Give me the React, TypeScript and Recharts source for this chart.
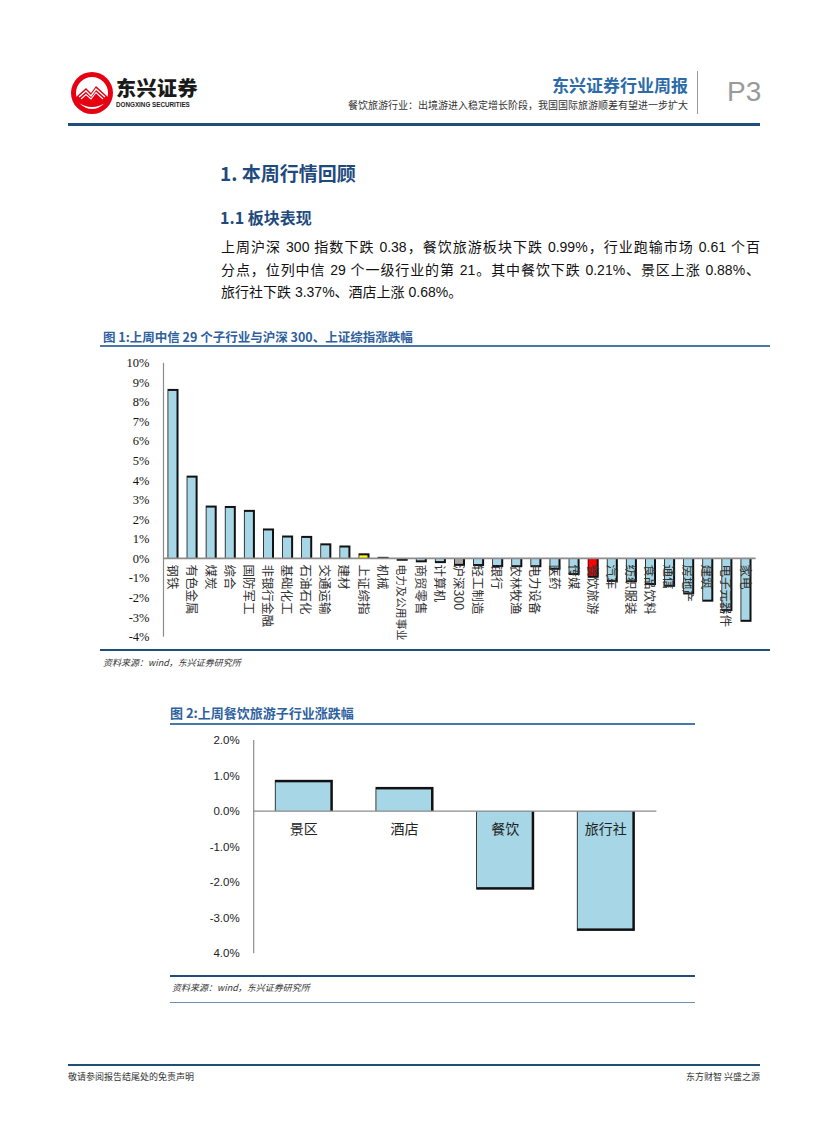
import React from "react";
import { BarChart, Bar, XAxis, YAxis, ReferenceLine } from "recharts";

// 图1：中信一级行业 + 两个指数，上周涨跌幅(%)
const industries = [
  "钢铁", "有色金属", "煤炭", "综合", "国防军工", "非银行金融", "基础化工", "石油石化",
  "交通运输", "建材", "上证综指", "机械", "电力及公用事业", "商贸零售", "计算机", "沪深300",
  "轻工制造", "银行", "农林牧渔", "电力设备", "医药", "传媒", "餐饮旅游", "汽车",
  "纺织服装", "食品饮料", "通信", "房地产", "建筑", "电子元器件", "家电",
];
const weeklyChange = [
  8.66, 4.23, 2.7, 2.68, 2.48, 1.53, 1.17, 1.15,
  0.77, 0.66, 0.26, 0.08, -0.12, -0.2, -0.24, -0.38,
  -0.39, -0.44, -0.45, -0.45, -0.58, -0.85, -0.99, -1.2,
  -1.22, -1.36, -1.45, -1.84, -2.21, -2.69, -3.24,
];
const pctTicks1 = [-4, -3, -2, -1, 0, 1, 2, 3, 4, 5, 6, 7, 8, 9, 10];

// 图2：餐饮旅游子行业
const subSectors = ["景区", "酒店", "餐饮", "旅行社"];
const subChange = [0.88, 0.68, -2.21, -3.37];
const pctTicks2 = [-4, -3, -2, -1, 0, 1, 2];
const pctTickLabels2 = ["4.0%", "-3.0%", "-2.0%", "-1.0%", "0.0%", "1.0%", "2.0%"];

const chart1Data = industries.map((name, i) => ({ name, value: weeklyChange[i] }));
const chart2Data = subSectors.map((name, i) => ({ name, value: subChange[i] }));

const BAR_BLUE = "#A7D6E6";
const highlight: Record<string, string> = {
  上证综指: "#FFFF00",
  沪深300: "#A6A6A6",
  餐饮旅游: "#FF0000",
};

const CJK = "'Noto Sans CJK SC', 'Liberation Sans', sans-serif";
const TITLE_BLUE = "#2E5F9E";
const NAVY = "#1F4E79";

// bar with a dark edge on the right and the outer end, like the excel export
function ShadedBar(props: any) {
  const { x, y, width, height, payload, edge, vertLabel, labelSize } = props;
  const top = Math.min(y, y + height);
  const h = Math.abs(height);
  const v = payload.value;
  const base = v >= 0 ? top + h : top;
  const fill = highlight[payload.name] || BAR_BLUE;
  const inner = {
    x: x + 0.8,
    y: v >= 0 ? top + edge : top,
    w: Math.max(width - 0.8 - edge, 0),
    h: Math.max(h - edge, 0),
  };
  const cx = x + width / 2;
  // long names get squeezed so they stay above the source line
  const fs = vertLabel ? Math.min(labelSize, 76 / payload.name.length) : labelSize;
  return (
    <g>
      <rect x={x} y={top} width={width} height={h} fill="#111" />
      <rect x={inner.x} y={inner.y} width={inner.w} height={inner.h} fill={fill} />
      {vertLabel ? (
        <text
          x={cx}
          y={base + 6}
          transform={`rotate(90 ${cx} ${base + 6})`}
          dominantBaseline="central"
          textAnchor="start"
          fontSize={fs}
          fontFamily={CJK}
          fill="#333"
        >
          {payload.name}
        </text>
      ) : (
        <text
          x={cx}
          y={base + 17}
          dominantBaseline="central"
          textAnchor="middle"
          fontSize={fs}
          fontFamily={CJK}
          fill="#222"
        >
          {payload.name}
        </text>
      )}
    </g>
  );
}

const abs = (l: number, t: number, extra: React.CSSProperties = {}): React.CSSProperties => ({
  position: "absolute",
  left: l,
  top: t,
  whiteSpace: "nowrap",
  ...extra,
});

const hline = (l: number, t: number, w: number, thick: number, color: string) => (
  <div style={abs(l, t, { width: w, height: thick, background: color })} />
);

export default function App() {
  const para: React.CSSProperties = {
    fontFamily: "'Liberation Sans', 'Noto Sans CJK SC', sans-serif",
    fontSize: 14,
    color: "#111",
    width: 539,
    textAlign: "justify",
    textAlignLast: "justify",
    whiteSpace: "normal",
    lineHeight: "16px",
  };
  return (
    <div
      style={{
        position: "absolute",
        left: 0,
        top: 0,
        width: 827,
        height: 1122,
        background: "#fff",
        overflow: "hidden",
        fontFamily: CJK,
      }}
    >
      {/* header */}
      <svg style={abs(70, 71)} width={44} height={44} viewBox="0 0 44 44">
        <circle cx={22} cy={22} r={21} fill="#E50012" />
        <circle cx={22} cy={22} r={16} fill="#fff" />
        <path d="M6 26 L16 17 L21 22 L26 15 L38 26 L38 30 Q22 42 6 30 Z" fill="#E50012" />
        <path d="M9 26 L16 20 L21 25 L26 18 L35 26" stroke="#fff" strokeWidth={1.3} fill="none" />
        <path d="M11 28 L16 23.5 L21 28 L26 21.5 L33 28" stroke="#fff" strokeWidth={1.1} fill="none" />
      </svg>
      <div style={abs(116, 77, { fontSize: 20, lineHeight: "22px", fontWeight: 900, color: "#1a1a1a", letterSpacing: 0.5 })}>
        东兴证券
      </div>
      <div style={abs(116, 101, { fontSize: 6.3, lineHeight: "8px", fontWeight: 700, color: "#222", fontFamily: "'Liberation Sans', sans-serif" })}>
        DONGXING SECURITIES
      </div>
      <div style={abs(0, 72, { width: 688, textAlign: "right", fontSize: 17, fontWeight: 700, color: "#2C6BA8" })}>
        东兴证券行业周报
      </div>
      <div style={abs(0, 97, { width: 688, textAlign: "right", fontSize: 10, color: "#333" })}>
        餐饮旅游行业：出境游进入稳定增长阶段，我国国际旅游顺差有望进一步扩大
      </div>
      <div style={abs(697, 71, { width: 1, height: 43, background: "#999" })} />
      <div style={abs(727, 76, { fontSize: 28, color: "#9A9A9A", fontFamily: "'Liberation Sans', sans-serif", fontWeight: 300 })}>
        P3
      </div>
      {hline(68, 123, 692, 3, NAVY)}

      {/* section headings */}
      <div style={abs(220, 159, { fontSize: 19, fontWeight: 700, color: "#1F4A7D" })}>1. 本周行情回顾</div>
      <div style={abs(220, 205, { fontSize: 16, fontWeight: 700, color: "#1F4A7D" })}>1.1 板块表现</div>
      <div style={abs(221, 239, para)}>上周沪深 300 指数下跌 0.38，餐饮旅游板块下跌 0.99%，行业跑输市场 0.61 个百</div>
      <div style={abs(221, 262, para)}>分点，位列中信 29 个一级行业的第 21。其中餐饮下跌 0.21%、景区上涨 0.88%、</div>
      <div style={abs(221, 284, { ...para, textAlignLast: "left", width: "auto" })}>旅行社下跌 3.37%、酒店上涨 0.68%。</div>

      {/* figure 1 */}
      <div style={abs(103, 327, { fontSize: 12.5, fontWeight: 700, color: TITLE_BLUE })}>
        图 1:上周中信 29 个子行业与沪深 300、上证综指涨跌幅
      </div>
      {hline(100, 345, 670, 2, "#4A76A8")}
      <div style={abs(100, 350)}>
        <BarChart
          width={670}
          height={300}
          data={chart1Data}
          margin={{ top: 12.7, right: 14.4, bottom: 13.3, left: 0 }}
          barCategoryGap="21%"
        >
          <XAxis dataKey="name" hide />
          <YAxis
            width={63.5}
            domain={[-4, 10]}
            ticks={pctTicks1}
            interval={0}
            tickFormatter={(v: number) => `${v}%`}
            tickLine={false}
            tickSize={0}
            tickMargin={14}
            axisLine={{ stroke: "#8c8c8c", strokeWidth: 1.2 }}
            tick={{ fontSize: 12.5, fill: "#111", fontFamily: "'Liberation Serif', serif" }}
          />
          <Bar
            dataKey="value"
            isAnimationActive={false}
            shape={(p: any) => <ShadedBar {...p} edge={2} vertLabel labelSize={12.5} />}
          />
          <ReferenceLine y={0} stroke="#8c8c8c" strokeWidth={1.6} />
        </BarChart>
      </div>
      {hline(100, 649, 670, 1.5, NAVY)}
      <div style={abs(103, 656, { fontSize: 9, fontStyle: "italic", color: "#333" })}>资料来源：wind，东兴证券研究所</div>

      {/* figure 2 */}
      <div style={abs(170, 703, { fontSize: 13, fontWeight: 700, color: TITLE_BLUE })}>图 2:上周餐饮旅游子行业涨跌幅</div>
      {hline(170, 723, 525, 1.5, "#4A76A8")}
      <div style={abs(160, 730)}>
        <BarChart
          width={520}
          height={240}
          data={chart2Data}
          margin={{ top: 10, right: 23.6, bottom: 16.7, left: 0 }}
          barCategoryGap="21%"
        >
          <XAxis dataKey="name" hide />
          <YAxis
            width={93.7}
            domain={[-4, 2]}
            ticks={pctTicks2}
            interval={0}
            tickFormatter={(v: number) => pctTickLabels2[pctTicks2.indexOf(v)]}
            tickLine={false}
            tickSize={0}
            tickMargin={14}
            axisLine={{ stroke: "#8c8c8c", strokeWidth: 1.2 }}
            tick={{ fontSize: 11.5, fill: "#222", fontFamily: "'Liberation Sans', sans-serif" }}
          />
          <Bar
            dataKey="value"
            isAnimationActive={false}
            shape={(p: any) => <ShadedBar {...p} edge={2.5} labelSize={14} />}
          />
          <ReferenceLine y={0} stroke="#8c8c8c" strokeWidth={1.4} />
        </BarChart>
      </div>
      {hline(170, 975, 525, 1.5, NAVY)}
      <div style={abs(172, 981, { fontSize: 9, fontStyle: "italic", color: "#333" })}>资料来源：wind，东兴证券研究所</div>
      {hline(170, 1002, 525, 1, "#6d8fb5")}

      {/* footer */}
      {hline(68, 1064, 692, 2, NAVY)}
      <div style={abs(68, 1070, { fontSize: 9, color: "#333" })}>敬请参阅报告结尾处的免责声明</div>
      <div style={abs(0, 1070, { width: 760, textAlign: "right", fontSize: 9, color: "#333" })}>东方财智 兴盛之源</div>
    </div>
  );
}
